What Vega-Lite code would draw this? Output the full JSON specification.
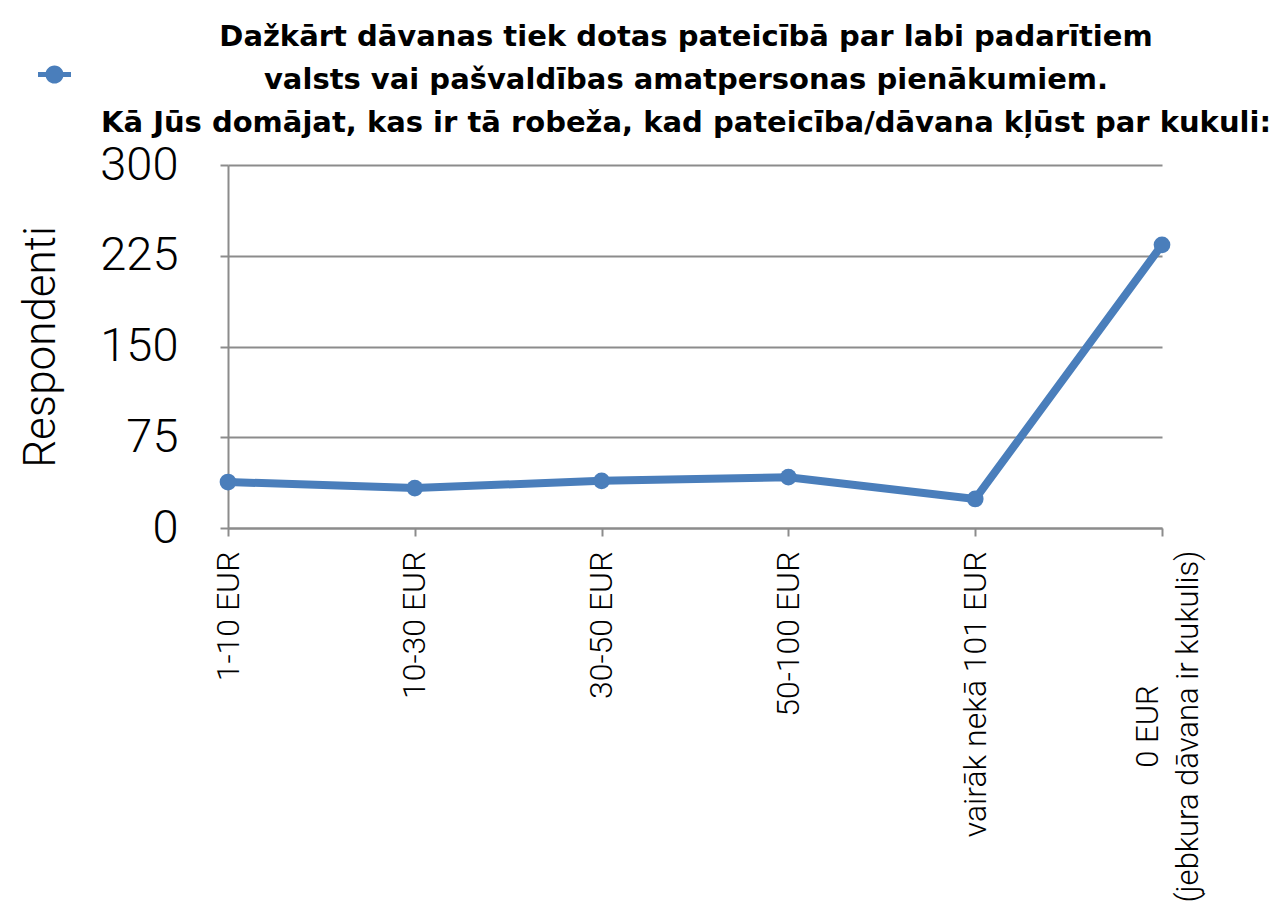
{
  "$schema": "https://vega.github.io/schema/vega-lite/v6.json",
  "autosize": "none",
  "width": 934,
  "height": 363,
  "padding": {"left": 228, "top": 165, "right": 124, "bottom": 379},
  "background": "white",
  "title": {
    "text": ["Dažkārt dāvanas tiek dotas pateicībā  par labi padarītiem", "valsts vai pašvaldības amatpersonas pienākumiem.", "Kā Jūs domājat, kas ir tā robeža, kad pateicība/dāvana kļūst par kukuli:"],
    "font": "DejaVu Sans",
    "fontSize": 29,
    "fontWeight": "bold",
    "lineHeight": 43,
    "anchor": "middle",
    "frame": "group",
    "dx": -9,
    "offset": -80,
    "color": "black"
  },
  "data": {
    "values": [
      {"kategorija": "1-10 EUR", "respondenti": 38, "series": "Respondenti"},
      {"kategorija": "10-30 EUR", "respondenti": 33, "series": "Respondenti"},
      {"kategorija": "30-50 EUR", "respondenti": 39, "series": "Respondenti"},
      {"kategorija": "50-100 EUR", "respondenti": 42, "series": "Respondenti"},
      {"kategorija": "vairāk nekā 101  EUR", "respondenti": 24, "series": "Respondenti"},
      {"kategorija": "0 EUR (jebkura dāvana ir kukulis)", "respondenti": 234, "series": "Respondenti"}
    ]
  },
  "encoding": {
    "x": {
      "field": "kategorija",
      "type": "nominal",
      "sort": null,
      "scale": {"type": "point", "padding": 0},
      "axis": {
        "title": null,
        "labelAngle": -90,
        "labelFont": "Roboto",
        "labelFontWeight": 300,
        "labelFontSize": {"condition": {"test": "datum.value == '0 EUR (jebkura dāvana ir kukulis)'", "value": 31}, "value": 32},
        "labelColor": "black",
        "labelLineHeight": 40,
        "labelLimit": 0,
        "labelExpr": "datum.value == '0 EUR (jebkura dāvana ir kukulis)' ? ['0 EUR', '(jebkura dāvana ir kukulis)'] : datum.label",
        "labelAlign": {"condition": {"test": "datum.value == '0 EUR (jebkura dāvana ir kukulis)'", "value": "center"}, "value": "right"},
        "labelPadding": {"condition": {"test": "datum.value == '0 EUR (jebkura dāvana ir kukulis)'", "value": 190}, "value": 15},
        "labelOffset": {"condition": {"test": "datum.value == '0 EUR (jebkura dāvana ir kukulis)'", "value": -14}, "value": 0},
        "labelOverlap": false,
        "labelBound": false,
        "tickSize": 8,
        "tickWidth": 2,
        "tickColor": "#8c8c8c",
        "domainColor": "#8c8c8c",
        "domainWidth": 2,
        "grid": false
      }
    },
    "y": {
      "field": "respondenti",
      "type": "quantitative",
      "scale": {"domain": [0, 300], "nice": false},
      "axis": {
        "title": "Respondenti",
        "titleFont": "Roboto",
        "titleFontWeight": 300,
        "titleFontSize": 44,
        "titleColor": "black",
        "titlePadding": 36,
        "values": [0, 75, 150, 225, 300],
        "labelFont": "Roboto",
        "labelFontWeight": 300,
        "labelFontSize": 47,
        "labelColor": "black",
        "labelPadding": 42,
        "labelBound": false,
        "labelFlush": false,
        "tickSize": 8,
        "tickWidth": 2,
        "tickColor": "#8c8c8c",
        "domainColor": "#8c8c8c",
        "domainWidth": 2,
        "grid": true,
        "gridColor": "#8c8c8c",
        "gridWidth": 2
      }
    },
    "color": {
      "field": "series",
      "type": "nominal",
      "scale": {"range": ["#4a7ebb"]},
      "legend": {
        "title": null,
        "orient": "none",
        "legendX": -190,
        "legendY": -107,
        "padding": 0,
        "labelExpr": "''",
        "symbolType": "M -1 -0.15 L 1 -0.15 L 1 0.15 L -1 0.15 Z M -0.55 0 A 0.55 0.55 0 1 1 0.55 0 A 0.55 0.55 0 1 1 -0.55 0 Z",
        "symbolSize": 1089,
        "symbolFillColor": "#4a7ebb",
        "symbolStrokeWidth": 0
      }
    }
  },
  "layer": [
    {"mark": {"type": "line", "strokeWidth": 8, "clip": false}},
    {"mark": {"type": "point", "filled": true, "opacity": 1, "size": 280, "shape": "circle", "clip": false}}
  ],
  "config": {
    "view": {"stroke": null}
  }
}
